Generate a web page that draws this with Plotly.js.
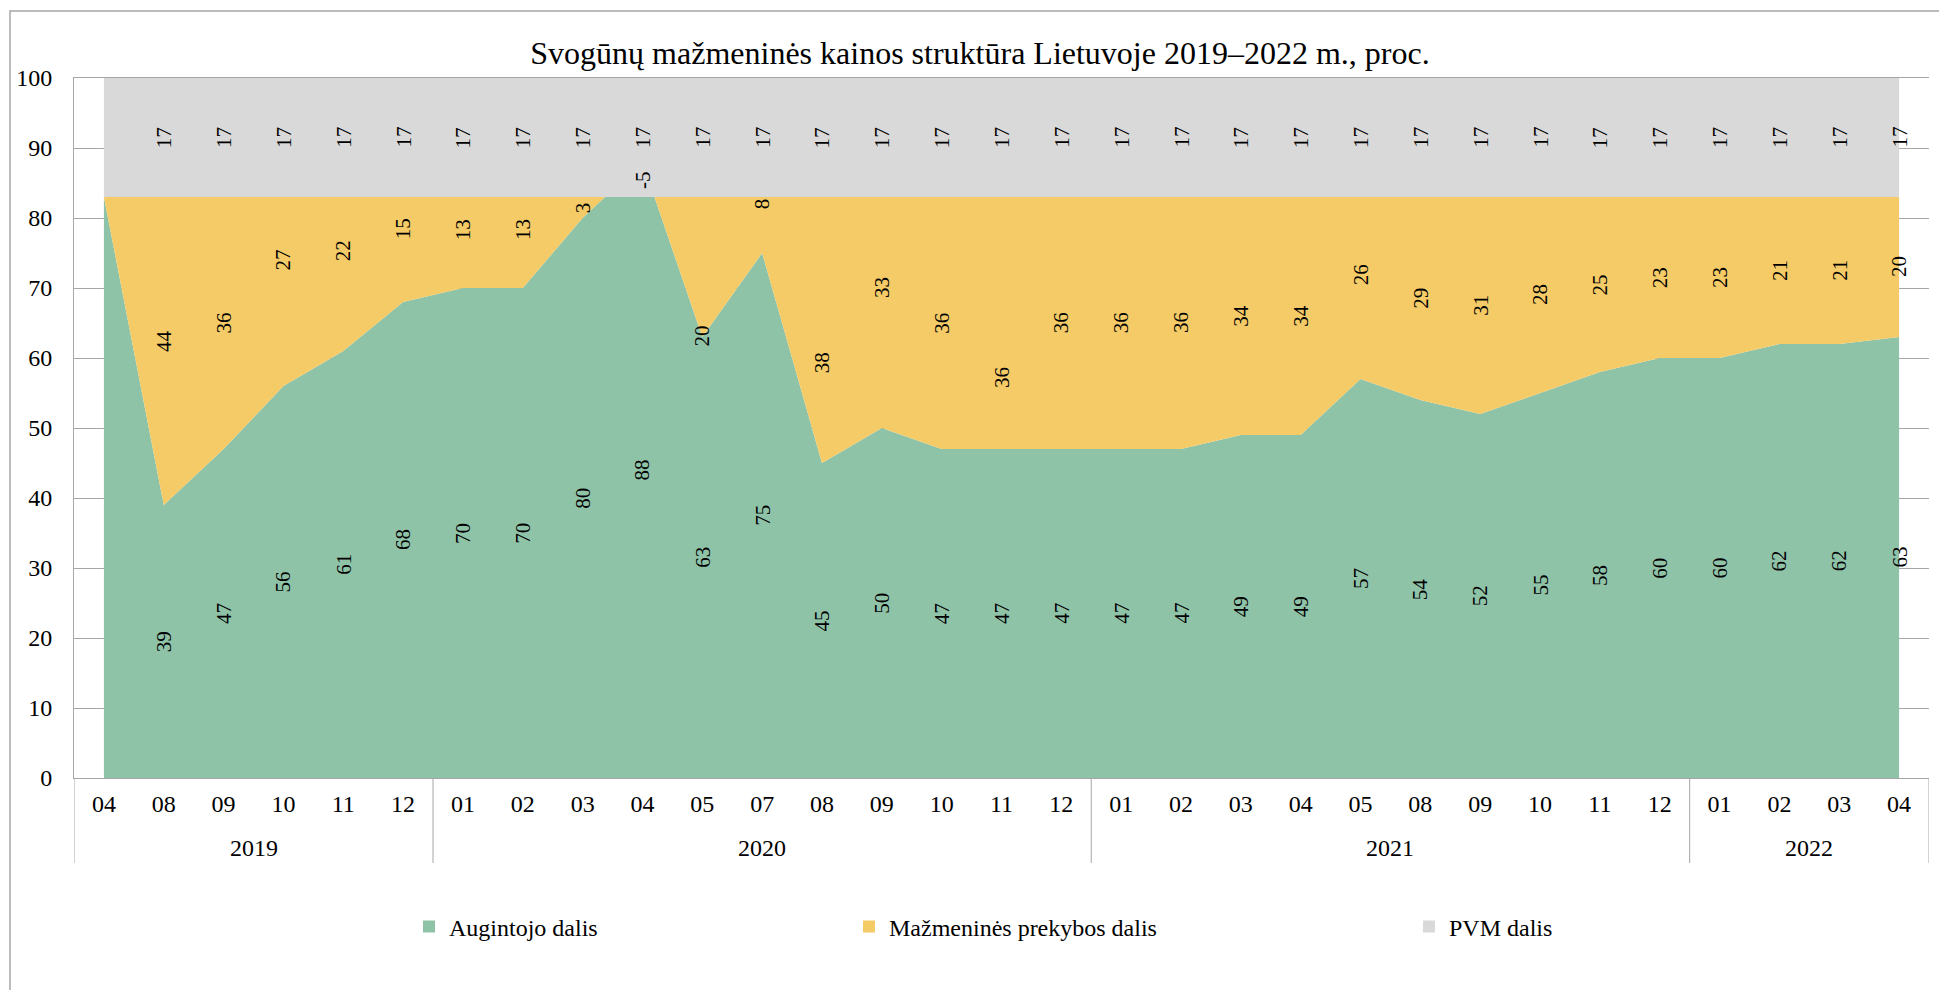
<!DOCTYPE html>
<html>
<head>
<meta charset="utf-8">
<script src="https://cdn.plot.ly/plotly-3.0.1.min.js"></script>
<style>html,body{margin:0;padding:0;background:#fff;}#chart{width:1939px;height:990px;}</style>
</head>
<body>
<div id="chart"></div>
<script>
// ---- Data ----
const years = ["2019", "2020", "2021", "2022"];
const monthsPerYear = [
  ["04","08","09","10","11","12"],
  ["01","02","03","04","05","07","08","09","10","11","12"],
  ["01","02","03","04","05","08","09","10","11","12"],
  ["01","02","03","04"]
];
const augintojo = [83, 39, 47, 56, 61, 68, 70, 70, 80, 88, 63, 75, 45, 50, 47, 47, 47, 47, 47, 49, 49, 57, 54, 52, 55, 58, 60, 60, 62, 62, 63];
const prekybos  = [0, 44, 36, 27, 22, 15, 13, 13, 3, -5, 20, 8, 38, 33, 36, 36, 36, 36, 36, 34, 34, 26, 29, 31, 28, 25, 23, 23, 21, 21, 20];
const pvm       = [17, 17, 17, 17, 17, 17, 17, 17, 17, 17, 17, 17, 17, 17, 17, 17, 17, 17, 17, 17, 17, 17, 17, 17, 17, 17, 17, 17, 17, 17, 17];
const seriesNames = ["Augintojo dalis", "Mažmeninės prekybos dalis", "PVM dalis"];
const colors = ["#8FC3A8", "#F4CB66", "#D9D9D9"];
const chartTitle = "Svogūnų mažmeninės kainos struktūra Lietuvoje 2019–2022 m., proc.";
const labelFrom = 1; // the first point carries no data labels in the original

// Manual label nudges from the original (axis units, retail series only; label placement, not data)
const retailLabelNudge = {1: 1.4, 3: 4.5, 4: 3.3, 5: 2.9, 6: 1.9, 7: 1.9, 10: -9.9, 11: 3.0, 12: -4.6, 13: 3.6, 15: -7.8, 21: 1.9};

// ---- Build ----
const months = monthsPerYear.flat();
const n = months.length;
const xs = months.map((_, i) => i);
const series = [augintojo, prekybos, pvm];
const cum = [];
let run = new Array(n).fill(0);
series.forEach(s => { run = run.map((v, i) => v + s[i]); cum.push(run.slice()); });

const FONT = "Liberation Serif, Times New Roman, serif";
const GRID = "#A6A6A6";

const traces = [];
series.forEach((s, k) => {
  traces.push({
    x: xs, y: cum[k], type: "scatter", mode: "lines",
    line: {width: 0, color: colors[k]},
    fill: k === 0 ? "tozeroy" : "tonexty",
    fillcolor: colors[k], showlegend: false, hoverinfo: "skip"
  });
});
const legendKeys = ["legend", "legend2", "legend3"];
series.forEach((s, k) => {
  traces.push({
    x: [null], y: [null], type: "scatter", mode: "markers",
    marker: {symbol: "square", size: 12, color: colors[k]},
    name: seriesNames[k], showlegend: true, legend: legendKeys[k], hoverinfo: "skip"
  });
});

const annotations = [];
series.forEach((s, k) => {
  for (let i = labelFrom; i < n; i++) {
    const base = k === 0 ? 0 : cum[k - 1][i];
    const nudge = (k === 1 && retailLabelNudge[i]) ? retailLabelNudge[i] : 0;
    annotations.push({
      x: i, y: base + s[i] / 2 + nudge, xref: "x", yref: "y",
      text: String(s[i]), showarrow: false, textangle: -90,
      font: {family: FONT, size: 21, color: "#000"},
      xanchor: "center", yanchor: "middle"
    });
  }
});

// year group labels and dividers
const shapes = [];
let start = 0;
const divY = -(863 - 778) / 700;
shapes.push({type: "line", xref: "x", yref: "paper", x0: -0.5, x1: -0.5, y0: 0, y1: divY, line: {color: GRID, width: 1}});
years.forEach((yr, g) => {
  const cnt = monthsPerYear[g].length;
  const end = start + cnt;
  annotations.push({
    x: (start - 0.5 + end - 0.5) / 2, y: -70 / 700, xref: "x", yref: "paper",
    text: yr, showarrow: false, font: {family: FONT, size: 24, color: "#000"},
    xanchor: "center", yanchor: "middle"
  });
  shapes.push({type: "line", xref: "x", yref: "paper", x0: end - 0.5, x1: end - 0.5, y0: 0, y1: divY, line: {color: GRID, width: 1}});
  start = end;
});
// outer chart border
shapes.push({type: "rect", xref: "paper", yref: "paper",
  x0: (10 - 74) / 1855, x1: 1.03, y0: 1 + (78 - 11) / 700, y1: -0.35,
  line: {color: "#A6A6A6", width: 1.5}, fillcolor: "rgba(0,0,0,0)", layer: "below"});

function legendAt(markerCenterPx) {
  return {
    x: (markerCenterPx - 20 - 74) / 1855, xanchor: "left",
    y: -(927 - 778) / 700, yanchor: "middle",
    orientation: "h", bgcolor: "rgba(0,0,0,0)", borderwidth: 0,
    font: {family: FONT, size: 24, color: "#000"}
  };
}

const layout = {
  width: 1939, height: 990,
  margin: {l: 74, r: 10, t: 78, b: 212},
  paper_bgcolor: "#fff", plot_bgcolor: "#fff",
  showlegend: true,
  title: {
    text: chartTitle, font: {family: FONT, size: 32, color: "#000"},
    x: 980 / 1939, xref: "container", xanchor: "center",
    y: 1 - 53 / 990, yref: "container", yanchor: "middle"
  },
  xaxis: {
    range: [-0.5, n - 0.5], tickmode: "array", tickvals: xs, ticktext: months,
    showgrid: false, zeroline: false, showline: true, mirror: true,
    linecolor: GRID, linewidth: 1, ticks: "", ticklabelstandoff: 4,
    tickfont: {family: FONT, size: 24, color: "#000"}, fixedrange: true
  },
  yaxis: {
    range: [0, 100], dtick: 10, tick0: 0, showgrid: true, gridcolor: GRID, gridwidth: 1,
    zeroline: false, showline: true, linecolor: GRID, linewidth: 1, ticks: "",
    ticklabelstandoff: 16,
    tickfont: {family: FONT, size: 24, color: "#000"}, fixedrange: true
  },
  legend: legendAt(429),
  legend2: legendAt(869),
  legend3: legendAt(1429),
  annotations: annotations,
  shapes: shapes,
  hovermode: false
};

Plotly.newPlot("chart", traces, layout, {displayModeBar: false, staticPlot: true});
</script>
</body>
</html>
